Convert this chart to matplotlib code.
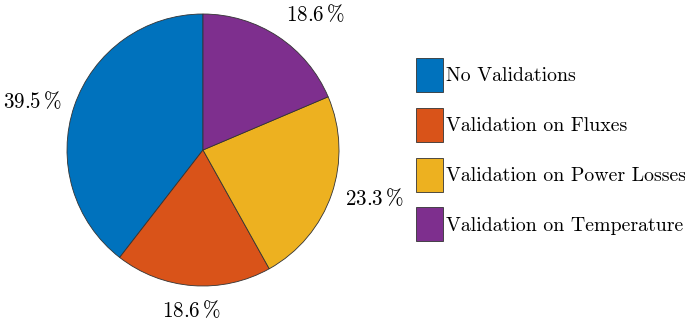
import matplotlib
matplotlib.use("Agg")
import matplotlib.pyplot as plt
import numpy as np

categories = ["No Validations", "Validation on Fluxes",
              "Validation on Power Losses", "Validation on Temperature"]
values = [39.5, 18.6, 23.3, 18.6]
colors = ["#0072BD", "#D95319", "#EDB120", "#7E2F8E"]

plt.rcParams["font.family"] = "cmr10"
plt.rcParams["mathtext.fontset"] = "cm"
plt.rcParams["axes.unicode_minus"] = False

FS = 14.3
W, H = 685, 320
fig = plt.figure(figsize=(W / 100, H / 100), dpi=100)
cx, cy, R = 203, 150, 136
pad = 1.02
ax = fig.add_axes([(cx - R * pad) / W, (H - cy - R * pad) / H,
                   2 * R * pad / W, 2 * R * pad / H])

labels = [f"${v:.1f}\\,\\%$" for v in values]
wedges, texts = ax.pie(values, colors=colors, startangle=90, counterclock=True,
                       labels=labels, labeldistance=1.1,
                       wedgeprops=dict(edgecolor="#333333", linewidth=0.6),
                       textprops=dict(fontsize=15.2))
for w, t in zip(wedges, texts):
    ang = np.deg2rad((w.theta1 + w.theta2) / 2)
    c, s = np.cos(ang), np.sin(ang)
    t.set_ha("left" if c > 0.3 else ("right" if c < -0.3 else "center"))
    t.set_va("bottom" if s > 0.7 else ("top" if s < -0.7 else "center"))
ax.set_xlim(-pad, pad)
ax.set_ylim(-pad, pad)
ax.set_aspect("auto")

leg = fig.legend(wedges, categories, loc="upper left",
                 bbox_to_anchor=(415.5 / W, 1 - 58 / H), frameon=False,
                 fontsize=FS, handlelength=1.4, handleheight=2.25,
                 handletextpad=0.12, labelspacing=0.8, borderpad=0,
                 borderaxespad=0)

fig.savefig("out.png", dpi=100)
